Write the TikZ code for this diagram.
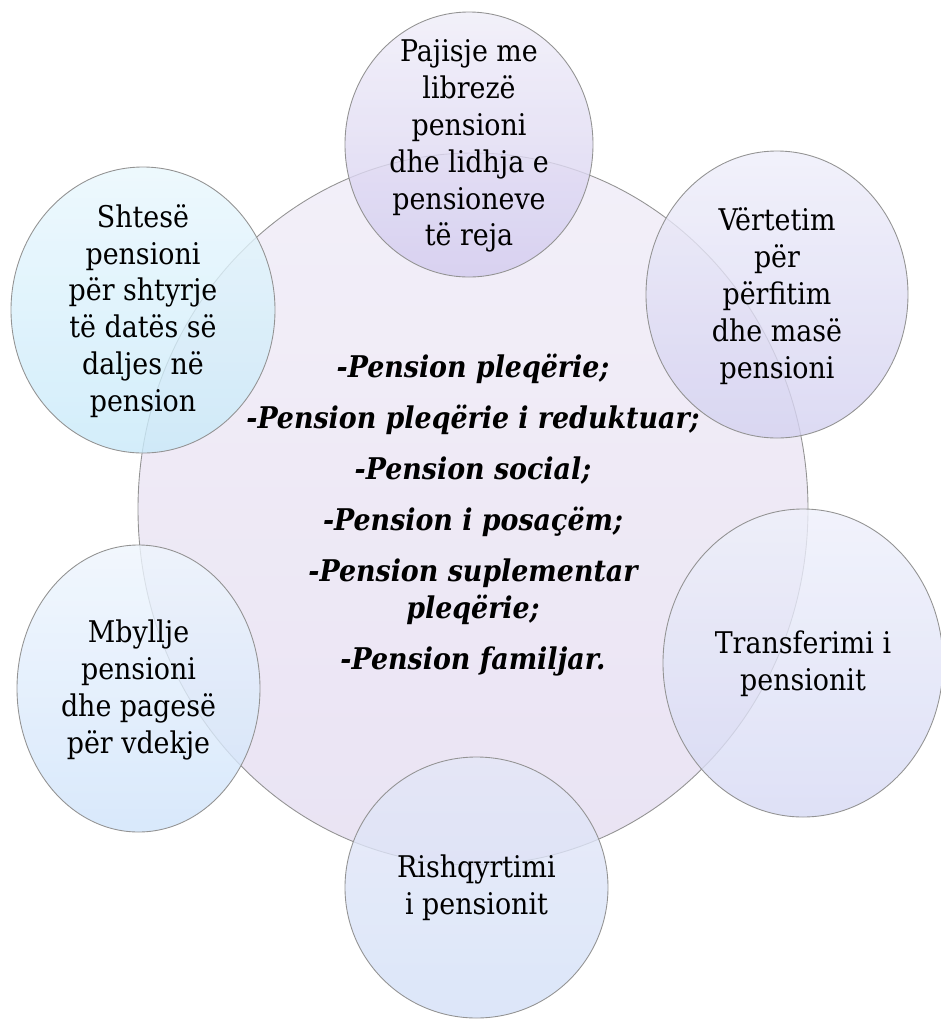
\documentclass[tikz,border=0pt]{standalone}
\usepackage{fontspec}
\setmainfont{DejaVu Serif Condensed}
\usepackage{xcolor}

\definecolor{bigtop}{RGB}{240,236,247}
\definecolor{bigbot}{RGB}{228,220,240}
\definecolor{purtop}{RGB}{239,237,248}
\definecolor{purbot}{RGB}{210,202,238}
\definecolor{viotop}{RGB}{238,238,250}
\definecolor{viobot}{RGB}{212,209,240}
\definecolor{cyantop}{RGB}{233,247,253}
\definecolor{cyanbot}{RGB}{200,233,249}
\definecolor{bluetop}{RGB}{238,245,253}
\definecolor{bluebot}{RGB}{207,227,250}
\definecolor{peritop}{RGB}{238,240,251}
\definecolor{peribot}{RGB}{214,217,244}
\definecolor{lowtop}{RGB}{228,231,248}
\definecolor{lowbot}{RGB}{211,224,248}

\tikzset{
  bubble/.style={draw=gray!85, line width=0.5pt, fill opacity=0.8},
  lbl/.style={align=center, font=\fontsize{17}{21}\selectfont},
  mainlbl/.style={align=center, font=\fontsize{17}{21}\selectfont\bfseries\itshape}
}

\begin{document}
\begin{tikzpicture}[x=0.02cm,y=-0.02cm]
\useasboundingbox (0,0) rectangle (941,1019);

\shade [bubble, top color=bigtop, bottom color=bigbot] (473,509) ellipse [x radius=335, y radius=356];

\shade [bubble, top color=purtop, bottom color=purbot] (469,144.5) ellipse [x radius=124, y radius=132.5];
\shade [bubble, top color=viotop, bottom color=viobot] (777,294.5) ellipse [x radius=131, y radius=143.5];
\shade [bubble, top color=peritop, bottom color=peribot] (803,663) ellipse [x radius=140, y radius=154];
\shade [bubble, top color=lowtop, bottom color=lowbot] (476.5,887.5) ellipse [x radius=131.5, y radius=130.5];
\shade [bubble, top color=bluetop, bottom color=bluebot] (138.5,688.5) ellipse [x radius=121.5, y radius=143.5];
\shade [bubble, top color=cyantop, bottom color=cyanbot] (143,310) ellipse [x radius=132, y radius=143];

\node [mainlbl] (v1) at (473,515) {-Pension pleqërie;\\[0.28cm]
  -Pension pleqërie i reduktuar;\\[0.28cm]
  -Pension social;\\[0.28cm]
  -Pension i posaçëm;\\[0.28cm]
  -Pension suplementar\\pleqërie;\\[0.28cm]
  -Pension familjar.};

\node [lbl] (v2) at (469,146) {Pajisje me\\librezë\\pensioni\\dhe lidhja e\\pensioneve\\të reja};
\node [lbl] (v3) at (777,296) {Vërtetim\\për\\përfitim\\dhe masë\\pensioni};
\node [lbl] (v4) at (803,664) {Transferimi i\\pensionit};
\node [lbl] (v5) at (476.5,888) {Rishqyrtimi\\i pensionit};
\node [lbl] (v6) at (138.5,690) {Mbyllje\\pensioni\\dhe pagesë\\për vdekje};
\node [lbl] (v7) at (143,311) {Shtesë\\pensioni\\për shtyrje\\të datës së\\daljes në\\pension};
\end{tikzpicture}
\end{document}
